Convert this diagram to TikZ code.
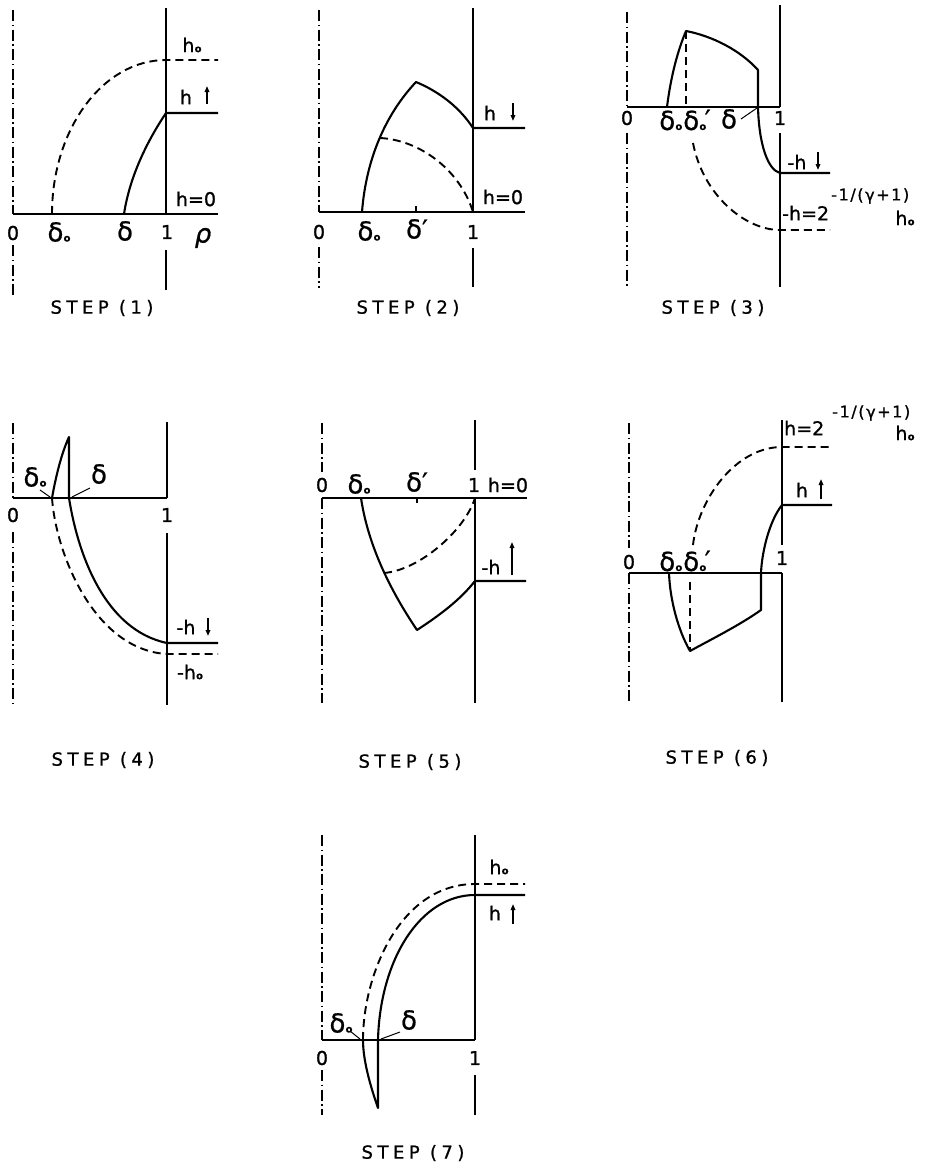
\documentclass[tikz,border=0pt]{standalone}
\usepackage{fontspec}
\setmainfont{DejaVu Sans}
\usetikzlibrary{arrows.meta}
\newcommand{\zo}{\kern0.2pt{\fontsize{10}{10}\selectfont\bfseries o}}
\newcommand{\zpr}{\kern-1.5pt\raisebox{0.05em}{′}}
\begin{document}
\begin{tikzpicture}[x=1pt,y=-1pt,
  ax/.style={line width=2.1pt},
  cv/.style={line width=2.1pt, line join=round},
  dsh/.style={line width=1.9pt, dash pattern=on 8pt off 5pt},
  dd/.style={line width=1.5pt, dash pattern=on 11pt off 3.5pt on 1.5pt off 3.5pt},
  lab/.style={font=\fontsize{19}{21}\selectfont\addfontfeature{FakeBold=1}, inner sep=0pt},
  dlab/.style={font=\fontsize{26}{28}\selectfont\addfontfeature{FakeBold=0.8}, inner sep=0pt},
  suplab/.style={font=\fontsize{16}{18}\selectfont\addfontfeature{LetterSpace=10,FakeBold=1}, inner sep=0pt, anchor=west},
  steplab/.style={font=\fontsize{18}{20}\selectfont\addfontfeature{LetterSpace=25,FakeBold=1}, inner sep=0pt},
  arr/.style={line width=1.7pt, -{Triangle[length=6pt,width=4.5pt]}},
  ldr/.style={line width=1pt}
]
\useasboundingbox (0,0) rectangle (932,1165);

% ---------------- STEP (1)
\draw[dd] (13,10) -- (13,214);
\draw[dd] (13,245) -- (13,295);
\draw[ax] (13,214) -- (218,214);
\draw[ax] (166,8) -- (166,214);
\draw[ax] (166,250) -- (166,290);
\draw[dsh] (52,214) .. controls (52,129) and (103,60) .. (166,60) -- (218,60);
\draw[cv] (124,214) .. controls (130,175) and (148,140) .. (166,113) -- (218,113);
\node[lab] (a1) at (192,45) {h\zo};
\node[lab] (a2) at (186,97) {h};
\draw[arr] (207,104) -- (207,86);
\node[lab] (a3) at (196,199) {h=0};
\node[lab] (a4) at (13,233) {0};
\node[dlab] (a5) at (59,232) {δ\zo};
\node[dlab] (a6) at (125,231) {δ};
\node[lab] (a7) at (167,232) {1};
\node[dlab] (a8) at (203,238) {\itshape ρ};
\node[steplab] (s1) at (102,308) {STEP (1)};

% ---------------- STEP (2)
\draw[dd] (319,10) -- (319,212);
\draw[dd] (319,247) -- (319,288);
\draw[ax] (319,212) -- (525,212);
\draw[ax] (473,8) -- (473,212);
\draw[ax] (473,248) -- (473,287);
\draw[cv] (362,212) .. controls (366,160) and (385,115) .. (416,82)
          .. controls (440,92) and (460,108) .. (473,128) -- (525,128);
\draw[dsh] (380,138) .. controls (420,140) and (460,170) .. (473,212);
\draw[ax] (416,212) -- (416,206);
\node[lab] (b1) at (490,113) {h};
\draw[arr] (513,103) -- (513,121);
\node[lab] (b2) at (503,197) {h=0};
\node[lab] (b3) at (319,232) {0};
\node[dlab] (b4) at (369,231) {δ\zo};
\node[dlab] (b5) at (417,229) {δ′};
\node[lab] (b6) at (473,232) {1};
\node[steplab] (s2) at (408,308) {STEP (2)};

% ---------------- STEP (3)
\draw[dd] (627,12) -- (627,107);
\draw[dd] (627,133) -- (627,287);
\draw[ax] (627,107) -- (780,107);
\draw[ax] (780,5) -- (780,107);
\draw[ax] (780,133) -- (780,287);
\draw[cv] (667,107) .. controls (671,75) and (678,50) .. (686,31)
          .. controls (712,36) and (740,50) .. (758,70) -- (758,107)
          .. controls (759,145) and (768,170) .. (780,173) -- (830,173);
\draw[dsh] (686,31) -- (686,107);
\draw[dsh] (693,143) .. controls (703,195) and (745,230) .. (780,230) -- (830,230);
\draw[ldr] (741,119) -- (757,108);
\node[dlab] (c2) at (685,120) {δ\zo\kern1pt δ\zo\zpr};
\node[lab] (c1) at (627,118) {0};
\node[dlab] (c4) at (729,119) {δ};
\node[lab] (c5) at (780,118) {1};
\node[lab] (c6) at (797,162) {-h};
\draw[arr] (818,152) -- (818,170);
\node[lab, anchor=west] (c7) at (782,213) {-h=2};
\node[suplab] (c8) at (831,196) {-1/(γ+1)};
\node[lab] (c9) at (905,218) {h\zo};
\node[steplab] (s3) at (713,308) {STEP (3)};

% ---------------- STEP (4)
\draw[dd] (13,423) -- (13,498);
\draw[dd] (13,532) -- (13,707);
\draw[ax] (13,498) -- (167,498);
\draw[ax] (167,422) -- (167,498);
\draw[ax] (167,533) -- (167,705);
\draw[cv] (52,498) .. controls (57,470) and (63,450) .. (69,437) -- (69,498)
          .. controls (78,555) and (105,630) .. (167,643) -- (218,643);
\draw[dsh] (52,498) .. controls (56,555) and (95,650) .. (167,654) -- (218,654);
\draw[ldr] (40,490) -- (50,497);
\draw[ldr] (90,488) -- (72,497);
\node[dlab] (d1) at (35,477) {δ\zo};
\node[dlab] (d2) at (99,474) {δ};
\node[lab] (d3) at (13,515) {0};
\node[lab] (d4) at (167,515) {1};
\node[lab] (d5) at (186,627) {-h};
\draw[arr] (208,618) -- (208,636);
\node[lab] (d6) at (190,672) {-h\zo};
\node[steplab] (s4) at (103,760) {STEP (4)};

% ---------------- STEP (5)
\draw[dd] (322,423) -- (322,472);
\draw[dd] (322,498) -- (322,703);
\draw[ax] (322,498) -- (527,498);
\draw[ax] (475,420) -- (475,470);
\draw[ax] (475,498) -- (475,703);
\draw[cv] (361,498) .. controls (368,545) and (390,590) .. (417,630)
          .. controls (440,615) and (460,600) .. (475,581) -- (526,581);
\draw[dsh] (384,573) .. controls (420,570) and (465,530) .. (475,498);
\draw[ax] (417,498) -- (417,503);
\node[lab] (e1) at (322,485) {0};
\node[dlab] (e2) at (359,484) {δ\zo};
\node[dlab] (e3) at (417,482) {δ′};
\node[lab] (e4) at (474,485) {1};
\node[lab] (e5) at (508,485) {h=0};
\node[lab] (e6) at (491,567) {-h};
\draw[arr] (512,575) -- (512,542);
\node[steplab] (s5) at (410,762) {STEP (5)};

% ---------------- STEP (6)
\draw[dd] (629,423) -- (629,548);
\draw[dd] (629,573) -- (629,703);
\draw[ax] (629,573) -- (782,573);
\draw[ax] (782,420) -- (782,545);
\draw[ax] (782,573) -- (782,702);
\draw[cv] (832,505) -- (782,505) .. controls (770,520) and (762,550) .. (761,573) -- (761,610)
          .. controls (740,625) and (710,640) .. (690,651)
          .. controls (678,630) and (670,600) .. (669,573);
\draw[dsh] (690,582) -- (690,651);
\draw[dsh] (693,545) .. controls (698,500) and (735,447) .. (782,447) -- (832,447);
\node[lab] (f1) at (629,562) {0};
\node[dlab] (f2) at (685,561) {δ\zo\kern1pt δ\zo\zpr};
\node[lab] (f4) at (782,558) {1};
\node[lab] (f5) at (802,490) {h};
\draw[arr] (821,499) -- (821,479);
\node[lab, anchor=west] (f6) at (784,428) {h=2};
\node[suplab] (f7) at (832,413) {-1/(γ+1)};
\node[lab] (f8) at (905,433) {h\zo};
\node[steplab] (s6) at (717,758) {STEP (6)};

% ---------------- STEP (7)
\draw[dd] (322,835) -- (322,1040);
\draw[dd] (322,1070) -- (322,1115);
\draw[ax] (322,1040) -- (475,1040);
\draw[ax] (475,835) -- (475,1040);
\draw[ax] (475,1075) -- (475,1115);
\draw[cv] (525,895) -- (475,895) .. controls (420,895) and (380,960) .. (378,1040) -- (378,1108)
          .. controls (370,1085) and (363,1060) .. (363,1040);
\draw[dsh] (363,1040) .. controls (363,975) and (400,884) .. (475,884) -- (525,884);
\draw[ldr] (350,1031) -- (360,1039);
\draw[ldr] (400,1032) -- (381,1039);
\node[lab] (g1) at (499,867) {h\zo};
\node[lab] (g2) at (495,913) {h};
\draw[arr] (513,924) -- (513,904);
\node[dlab] (g3) at (341,1023) {δ\zo};
\node[dlab] (g4) at (409,1020) {δ};
\node[lab] (g5) at (322,1058) {0};
\node[lab] (g6) at (475,1058) {1};
\node[steplab] (s7) at (413,1153) {STEP (7)};
\end{tikzpicture}
\end{document}
